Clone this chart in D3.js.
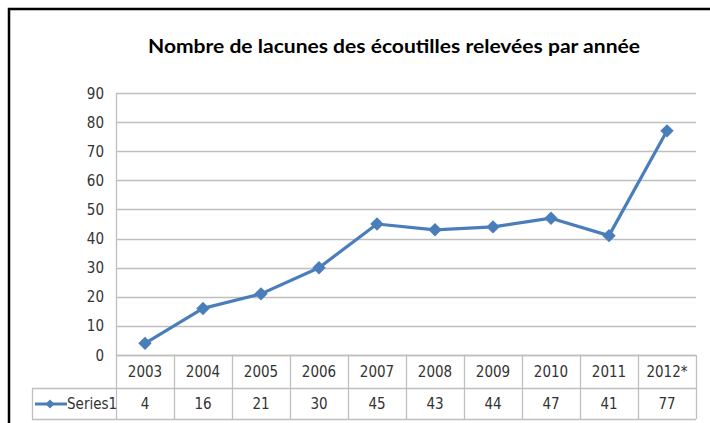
<!DOCTYPE html>
<html><head><meta charset="utf-8">
<script src="https://cdn.jsdelivr.net/npm/d3@7"></script>
<style>
body{margin:0;background:#fff;}
text{font-family:"DejaVu Sans","Open Sans",sans-serif;font-stretch:condensed;}
</style></head>
<body>
<svg id="c" width="710" height="423"></svg>
<script>
const title = "Nombre de lacunes des écoutilles relevées par année";
const categories = ["2003","2004","2005","2006","2007","2008","2009","2010","2011","2012*"];
const seriesName = "Series1";
const values = [4,16,21,30,45,43,44,47,41,77];
const yTicks = [0,10,20,30,40,50,60,70,80,90];

const svg = d3.select("#c");
const L = 116, R = 696, T = 93, B = 355;
const rowH1 = 33, rowH2 = 31, legLeft = 32;
const color = "#4a7ebb", grid = "#bfbfbf", txt = "#333";

// outer border
svg.append("path").attr("d","M9,430 L9,9 L720,9").attr("fill","none").attr("stroke","#000").attr("stroke-width",2.5);

svg.append("text").attr("x",394).attr("y",53).attr("text-anchor","middle")
  .attr("textLength",492).attr("lengthAdjust","spacingAndGlyphs")
  .style("font-family","Lato, 'Open Sans', sans-serif").style("font-stretch","normal").style("font-weight","bold").style("font-size","19px").attr("fill","#000").text(title);

const x = d3.scaleBand().domain(categories).range([L,R]);
const y = d3.scaleLinear().domain([0,90]).range([B,T]);

// gridlines
svg.append("g").selectAll("line").data(yTicks).join("line")
  .attr("x1",L).attr("x2",R).attr("y1",d=>Math.round(y(d))+0.5).attr("y2",d=>Math.round(y(d))+0.5)
  .attr("stroke",grid).attr("stroke-width",1.3);
// y axis line
svg.append("line").attr("x1",L+0.5).attr("x2",L+0.5).attr("y1",T).attr("y2",B).attr("stroke",grid).attr("stroke-width",1.3);

const fs = "15px";
// y labels
svg.append("g").selectAll("text").data(yTicks).join("text")
  .attr("x",104).attr("y",d=>y(d)+5.5).attr("text-anchor","end")
  .style("font-size",fs).attr("fill",txt).text(d=>d);

// table
const tg = svg.append("g").attr("stroke",grid).attr("stroke-width",1.3).attr("fill","none");
tg.append("line").attr("x1",L).attr("x2",R).attr("y1",B+0.5).attr("y2",B+0.5);
tg.append("line").attr("x1",legLeft).attr("x2",R).attr("y1",B+rowH1+0.5).attr("y2",B+rowH1+0.5);
tg.append("line").attr("x1",legLeft).attr("x2",R).attr("y1",B+rowH1+rowH2+0.5).attr("y2",B+rowH1+rowH2+0.5);
tg.append("line").attr("x1",legLeft+0.5).attr("x2",legLeft+0.5).attr("y1",B+rowH1).attr("y2",B+rowH1+rowH2);
const cols = categories.map(c=>x(c)).concat([R]);
tg.selectAll("line.v").data(cols).join("line").attr("class","v")
  .attr("x1",d=>Math.round(d)+0.5).attr("x2",d=>Math.round(d)+0.5).attr("y1",B).attr("y2",B+rowH1+rowH2);

svg.append("g").selectAll("text").data(categories).join("text")
  .attr("x",d=>x(d)+x.bandwidth()/2).attr("y",B+22).attr("text-anchor","middle")
  .style("font-size",fs).attr("fill",txt).text(d=>d);
svg.append("g").selectAll("text").data(values).join("text")
  .attr("x",(d,i)=>x(categories[i])+x.bandwidth()/2).attr("y",B+rowH1+21).attr("text-anchor","middle")
  .style("font-size",fs).attr("fill",txt).text(d=>d);

// legend key
const ly = B+rowH1+16;
svg.append("line").attr("x1",35).attr("x2",67).attr("y1",ly).attr("y2",ly).attr("stroke",color).attr("stroke-width",3);
svg.append("path").attr("d",d3.symbol(d3.symbolSquare,40)()).attr("transform",`translate(50,${ly}) rotate(45)`).attr("fill",color);
svg.append("text").attr("x",67).attr("y",ly+5).style("font-size",fs).attr("fill",txt).text(seriesName);

// line
const cx = (d,i)=>x(categories[i])+x.bandwidth()/2;
svg.append("path").datum(values)
  .attr("d",d3.line().x(cx).y(d=>y(d)))
  .attr("fill","none").attr("stroke",color).attr("stroke-width",3.2).attr("stroke-linejoin","round");
svg.append("g").selectAll("path").data(values).join("path")
  .attr("d",d3.symbol(d3.symbolSquare,90)())
  .attr("transform",(d,i)=>`translate(${cx(d,i)},${y(d)}) rotate(45)`).attr("fill",color);
</script>
</body></html>
